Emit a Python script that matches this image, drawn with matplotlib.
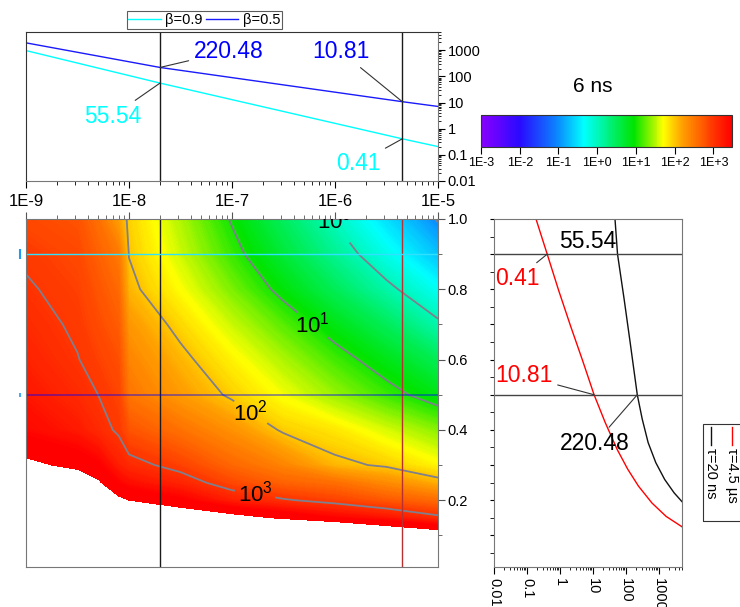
import numpy as np
import matplotlib
matplotlib.use('Agg')
import matplotlib.pyplot as plt
from matplotlib.colors import LinearSegmentedColormap, Normalize
from matplotlib.ticker import LogLocator, NullFormatter, MultipleLocator, FixedLocator
from matplotlib.lines import Line2D
from matplotlib.patches import Rectangle
import matplotlib.cm as cm

plt.rcParams['font.family'] = ['Liberation Sans', 'DejaVu Sans']
plt.rcParams['mathtext.fontset'] = 'custom'
plt.rcParams['mathtext.rm'] = 'Liberation Sans'
plt.rcParams['mathtext.it'] = 'Liberation Sans:italic'

# ---------------- data ----------------
# heat map: log10(value) on a grid of log10(tau) x beta
log_tau = [-9.0, -8.5, -8.3, -8.1, -8.0, -7.5, -7.0, -6.5, -6.0, -5.5, -5.0]
beta = [0.1, 0.15, 0.2, 0.25, 0.3, 0.4, 0.5, 0.6, 0.7, 0.8, 0.9, 1.0]
log_val = [
    [5.00, 4.90, 4.85, 4.80, 5.00, 4.90, 4.80, 4.70, 4.60, 4.20, 4.00],
    [4.60, 4.55, 4.45, 4.30, 4.20, 4.00, 3.85, 3.65, 3.45, 3.30, 3.07],
    [4.30, 4.25, 4.10, 3.78, 3.70, 3.50, 3.20, 3.03, 2.90, 2.73, 2.58],
    [4.00, 3.95, 3.75, 3.45, 3.35, 3.15, 2.85, 2.65, 2.56, 2.34, 2.10],
    [3.78, 3.62, 3.50, 3.20, 3.10, 2.90, 2.62, 2.40, 2.07, 1.96, 1.75],
    [3.40, 3.25, 3.10, 2.96, 2.77, 2.54, 2.30, 1.96, 1.83, 1.59, 1.35],
    [3.28, 3.10, 3.00, 2.88, 2.51, 2.23, 1.95, 1.68, 1.40, 1.12, 0.84],
    [3.18, 3.01, 2.91, 2.80, 2.40, 2.08, 1.77, 1.46, 1.14, 0.83, 0.51],
    [3.10, 2.96, 2.83, 2.70, 2.26, 1.91, 1.55, 1.20, 0.84, 0.49, 0.06],
    [3.03, 2.91, 2.76, 2.60, 2.08, 1.71, 1.31, 0.90, 0.50, 0.09, -0.31],
    [2.96, 2.85, 2.67, 2.48, 1.99, 1.56, 1.11, 0.66, 0.21, -0.25, -0.70],
    [2.85, 2.78, 2.55, 2.20, 1.94, 1.47, 0.97, 0.47, -0.03, -0.53, -1.03],
]
label_levels = [0, 1, 2, 3]
extra_levels = [-1]
contour_names = {0: '$10^0$', 1: '$10^1$', 2: '$10^2$', 3: '$10^3$'}

# top panel: value vs tau
tau_line = [1e-9, 2e-8, 4.5e-6, 1e-5]
val_b09 = [973, 55.54, 0.41, 0.207]
val_b05 = [1923, 220.48, 10.81, 7.1]
top_labels = ['β=0.9', 'β=0.5']

# side panel: beta vs value
val_t45 = [0.192, 0.41, 0.911, 2.07, 4.86, 10.81, 23.5, 53.8, 113.5, 240, 615, 1648, 5080]
beta_t45 = [0.997, 0.9, 0.797, 0.697, 0.597, 0.5, 0.421, 0.345, 0.288, 0.240, 0.192, 0.154, 0.124]
val_t20 = [46.8, 55.54, 87.7, 134, 220.48, 311, 470, 802, 1493, 2884, 5212]
beta_t20 = [0.997, 0.9, 0.773, 0.649, 0.5, 0.431, 0.364, 0.307, 0.259, 0.221, 0.194]
side_labels = ['τ=4.5 µs', 'τ=20 ns']

tau_marks = [2e-8, 4.5e-6]
beta_marks = [0.9, 0.5]

cbar_ticks = [-3, -2, -1, 0, 1, 2, 3]
cbar_title = '6 ns'

# ---------------- colours ----------------
stops = [(-3.0, '#8800ff'), (-2.0, '#2a0aff'), (-1.0, '#0a8cff'), (-0.35, '#00ffff'),
         (0.95, '#00e400'), (1.72, '#ffff00'), (2.2, '#ffa000'), (2.95, '#ff3c00'),
         (3.48, '#ff0000')]
vmin, vmax = -3.0, 3.48
cmap = LinearSegmentedColormap.from_list(
    'origin_rainbow', [((v - vmin) / (vmax - vmin), c) for v, c in stops])
norm = Normalize(vmin, vmax)

# ---------------- layout ----------------
W, H = 740.0, 607.0
fig = plt.figure(figsize=(W / 100, H / 100), dpi=100)

def box(x0, y0, x1, y1):
    return [x0 / W, 1 - y1 / H, (x1 - x0) / W, (y1 - y0) / H]

ax_top = fig.add_axes(box(26, 32, 438, 181))
ax_map = fig.add_axes(box(26, 219, 438, 567))
ax_side = fig.add_axes(box(494, 219, 682, 567))
cax = fig.add_axes(box(481, 115, 732, 147))

# ---------------- heat map ----------------
X, Y = np.meshgrid(log_tau, beta)
Z = np.array(log_val)
ax_map.contourf(X, Y, Z, levels=np.linspace(-3, 3.7, 336), cmap=cmap, norm=norm,
                antialiased=False)
ax_map.contour(X, Y, Z, levels=extra_levels, colors='#7f7f8e', linewidths=1.3)
cs = ax_map.contour(X, Y, Z, levels=label_levels, colors='#7f7f8e', linewidths=1.3)
lbls = ax_map.clabel(cs, fmt=contour_names, fontsize=16, colors='black',
                     inline=True, inline_spacing=3,
                     manual=[(-5.98, 0.975), (-6.27, 0.683), (-6.83, 0.446), (-6.77, 0.226)])
for t in lbls:
    t.set_rotation(0)
    if t.get_text() == contour_names[0]:
        t.set_position((-6.0, 0.997))

ax_map.axvline(np.log10(tau_marks[0]), color='#1a1a1a', lw=1)
ax_map.axvline(np.log10(tau_marks[1]), color='#b83030', lw=1)
ax_map.axhline(beta_marks[0], color='#30e0ff', lw=1)
ax_map.axhline(beta_marks[1], color='#0000ff', lw=1.2, alpha=0.5)
# little end marks left of the map
ax_map.plot([-9.06], [beta_marks[0]], marker='|', ms=7, mew=1.5, color='#1a9cff', clip_on=False)
ax_map.plot([-9.06], [beta_marks[1]], marker='|', ms=3, mew=1.2, color='#1a9cff', clip_on=False)

ax_map.set_xlim(-9, -5)
ax_map.set_ylim(0.01, 1.0)
ax_map.xaxis.tick_top()
ax_map.set_xticks(range(-9, -4))
ax_map.xaxis.set_minor_locator(FixedLocator(
    [d + np.log10(k) for d in range(-9, -5) for k in range(2, 10)]))
ax_map.tick_params(axis='x', which='both', labeltop=False, direction='out', color='#555555')
ax_map.tick_params(axis='x', which='major', length=5)
ax_map.tick_params(axis='x', which='minor', length=3)
ax_map.yaxis.tick_right()
ax_map.set_yticks([0.2, 0.4, 0.6, 0.8, 1.0])
ax_map.set_yticklabels(['0.2', '0.4', '0.6', '0.8', '1.0'])
ax_map.yaxis.set_minor_locator(FixedLocator([0.1, 0.3, 0.5, 0.7, 0.9]))
ax_map.tick_params(axis='y', which='both', direction='out', labelsize=10.5, pad=2, color='#555555')
ax_map.tick_params(axis='y', which='major', length=5)
ax_map.tick_params(axis='y', which='minor', length=3)
for s in ax_map.spines.values():
    s.set_color('#777777')

# ---------------- top panel ----------------
h1, = ax_top.plot(tau_line, val_b09, color='#00ffff', lw=1, label=top_labels[0])
h2, = ax_top.plot(tau_line, val_b05, color='#1a1aff', lw=1, label=top_labels[1])
for tm in tau_marks:
    ax_top.axvline(tm, color='#1a1a1a', lw=1)
ax_top.set_xscale('log')
ax_top.set_yscale('log')
ax_top.set_xlim(1e-9, 1e-5)
ax_top.set_ylim(0.01, 5000)
xt = [1e-9, 1e-8, 1e-7, 1e-6, 1e-5]
ax_top.set_xticks(xt)
ax_top.set_xticklabels(['1E%d' % round(np.log10(v)) for v in xt])
ax_top.xaxis.set_minor_locator(LogLocator(subs=np.arange(2, 10), numticks=20))
ax_top.xaxis.set_minor_formatter(NullFormatter())
ax_top.tick_params(axis='x', which='both', direction='out', labelsize=12, pad=4)
ax_top.tick_params(axis='x', which='major', length=5)
ax_top.tick_params(axis='x', which='minor', length=3)
ax_top.yaxis.tick_right()
yt = [0.01, 0.1, 1, 10, 100, 1000]
ax_top.set_yticks(yt)
ax_top.set_yticklabels(['%g' % v for v in yt])
ax_top.yaxis.set_minor_locator(LogLocator(subs=np.arange(2, 10), numticks=20))
ax_top.yaxis.set_minor_formatter(NullFormatter())
ax_top.tick_params(axis='y', which='both', direction='out', labelsize=10.5, pad=2)
ax_top.tick_params(axis='y', which='major', length=5)
ax_top.tick_params(axis='y', which='minor', length=2.5)
for s in ax_top.spines.values():
    s.set_color('#333333')
ax_top.spines['right'].set_color('#777777')
ax_top.spines['bottom'].set_color('#777777')

lead = dict(arrowstyle='-', color='#333333', lw=0.8, shrinkA=2, shrinkB=0)
ax_top.annotate('%.2f' % val_b05[1], xy=(tau_line[1], val_b05[1]), xytext=(9.35e-8, 917),
                color='#0000ff', fontsize=16.5, ha='center', va='center', arrowprops=lead)
ax_top.annotate('%.2f' % val_b05[2], xy=(tau_line[2], val_b05[2]), xytext=(1.14e-6, 891),
                color='#0000ff', fontsize=16.5, ha='center', va='center', arrowprops=lead)
ax_top.annotate('%.2f' % val_b09[1], xy=(tau_line[1], val_b09[1]), xytext=(6.9e-9, 3.0),
                color='#00ffff', fontsize=16.5, ha='center', va='center', arrowprops=lead)
ax_top.annotate('%.2f' % val_b09[2], xy=(tau_line[2], val_b09[2]), xytext=(1.67e-6, 0.047),
                color='#00ffff', fontsize=16.5, ha='center', va='center', arrowprops=lead)

leg = ax_top.legend(handles=[h1, h2], ncol=2, loc='lower left',
                    bbox_to_anchor=(126.7 / W, 1 - 28.5 / H), bbox_transform=fig.transFigure,
                    frameon=True, fancybox=False, edgecolor='#333333', borderpad=0.12,
                    handlelength=2.2, handletextpad=0.3, columnspacing=0.25,
                    fontsize=10.5, borderaxespad=0)
leg.get_frame().set_linewidth(0.8)

# ---------------- side panel ----------------
ax_side.plot(val_t45, beta_t45, color='#ff0000', lw=1)
ax_side.plot(val_t20, beta_t20, color='#111111', lw=1)
for bm in beta_marks:
    ax_side.axhline(bm, color='#444444', lw=1)
ax_side.set_xscale('log')
ax_side.set_xlim(0.01, 5000)
ax_side.set_ylim(0.01, 1.0)
st = [0.01, 0.1, 1, 10, 100, 1000]
ax_side.set_xticks(st)
ax_side.set_xticklabels(['%g' % v for v in st], rotation=-90, va='top', ha='center')
ax_side.xaxis.set_minor_locator(LogLocator(subs=np.arange(2, 10), numticks=20))
ax_side.xaxis.set_minor_formatter(NullFormatter())
ax_side.tick_params(axis='x', which='both', direction='out', labelsize=10.5, pad=3)
ax_side.tick_params(axis='x', which='major', length=5)
ax_side.tick_params(axis='x', which='minor', length=2.5)
ax_side.yaxis.set_major_locator(MultipleLocator(0.1))
ax_side.yaxis.set_minor_locator(MultipleLocator(0.05))
ax_side.tick_params(axis='y', which='both', direction='out', labelleft=False, length=3)
for s in ax_side.spines.values():
    s.set_color('#777777')

ax_side.annotate('%.2f' % val_t20[1], xy=(6.84, 0.935), color='black', fontsize=16.5,
                 ha='center', va='center')
ax_side.annotate('%.2f' % val_t45[1], xy=(val_t45[1], beta_t45[1]), xytext=(0.0494, 0.830),
                 color='#ff0000', fontsize=16.5, ha='center', va='center', arrowprops=lead)
ax_side.annotate('%.2f' % val_t45[5], xy=(val_t45[5], beta_t45[5]), xytext=(0.0787, 0.554),
                 color='#ff0000', fontsize=16.5, ha='center', va='center', arrowprops=lead)
ax_side.annotate('%.2f' % val_t20[4], xy=(val_t20[4], beta_t20[4]), xytext=(11.4, 0.361),
                 color='black', fontsize=16.5, ha='center', va='center', arrowprops=lead)

# side legend (rotated entries)
fig.add_artist(Rectangle((702.5 / W, 1 - 520.5 / H), 0.08, 96.5 / H, transform=fig.transFigure,
                         fill=False, ec='#333333', lw=0.8))
for xpix, col, lab in [(732.3, '#ff0000', side_labels[0]), (711.0, '#111111', side_labels[1])]:
    fig.add_artist(Line2D([xpix / W, xpix / W], [1 - 426.5 / H, 1 - 445 / H], color=col, lw=1,
                          transform=fig.transFigure))
    fig.text(xpix / W, 1 - 448 / H, lab, rotation=-90, ha='center', va='top', fontsize=10.5)

# ---------------- colour bar ----------------
sm = cm.ScalarMappable(norm=norm, cmap=cmap)
cb = fig.colorbar(sm, cax=cax, orientation='horizontal')
cb.set_ticks(cbar_ticks)
cb.set_ticklabels(['1E%+d' % v if v != 0 else '1E+0' for v in cbar_ticks])
cb.outline.set_edgecolor('#333333')
cb.outline.set_linewidth(0.8)
cax.tick_params(direction='out', length=5, labelsize=9, pad=2)
cax.minorticks_off()
fig.text(593 / W, 1 - 87 / H, cbar_title, ha='center', va='center', fontsize=15)

fig.savefig('out.png', dpi=100)
